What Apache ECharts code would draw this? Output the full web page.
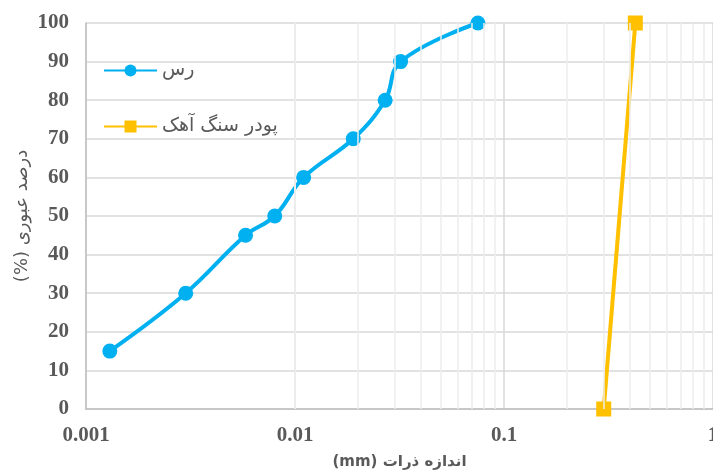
<!DOCTYPE html>
<html>
<head>
<meta charset="utf-8">
<script src="https://cdn.jsdelivr.net/npm/echarts@6/dist/echarts.min.js"></script>
<style>
html,body{margin:0;padding:0;background:#fff;overflow:hidden;width:100%;height:100%;}
#chart{width:100vw;height:100vh;}
</style>
</head>
<body>
<div id="chart"></div>
<script>
const clayName = 'رس';
const clayX = [0.0013, 0.003, 0.0058, 0.008, 0.011, 0.019, 0.027, 0.032, 0.075];
const clayY = [15, 30, 45, 50, 60, 70, 80, 90, 100];
const limeName = 'پودر سنگ آهک';
const limeX = [0.3, 0.425];
const limeY = [0, 100];
const xTickLabels = ['0.001', '0.01', '0.1', '1'];
const minorGrid = [];
[0.001, 0.01, 0.1].forEach(d => { for (let k = 2; k <= 9; k++) minorGrid.push(+(d * k).toPrecision(3)); });

const chart = echarts.init(document.getElementById('chart'));
const numFont = '"Liberation Serif", "Times New Roman", serif';
const faFont = '"DejaVu Sans", sans-serif';
chart.setOption({
  animation: false,
  grid: {left: 86, right: 0, top: 23, bottom: 65, containLabel: false, outerBoundsMode: 'none'},
  legend: {
    left: 98, top: 56, orient: 'vertical', itemGap: 37,
    itemWidth: 53, itemHeight: 15,
    textStyle: {fontFamily: faFont, fontSize: 19, color: '#595959'},
    data: [clayName, limeName]
  },
  xAxis: {
    type: 'log', logBase: 10, min: 0.001, max: 1,
    name: '(mm) اندازه ذرات', nameLocation: 'middle', nameGap: 46,
    nameTextStyle: {fontFamily: faFont, fontSize: 15, fontWeight: 'bold', color: '#595959'},
    axisLine: {show: true, lineStyle: {color: '#bfbfbf', width: 1.5}},
    axisTick: {show: false},
    axisLabel: {
      margin: 16, fontFamily: numFont, fontSize: 21, fontWeight: 'bold', color: '#595959',
      formatter: v => { const s = xTickLabels.find(t => Math.abs(parseFloat(t) - v) / v < 1e-6); return s || ''; }
    },
    splitLine: {show: true, lineStyle: {color: '#d9d9d9', width: 1.5}},
    minorTick: {show: false},
    minorSplitLine: {show: false}
  },
  yAxis: {
    type: 'value', min: 0, max: 100, interval: 10,
    name: '(%) درصد عبوری', nameLocation: 'middle', nameGap: 55, nameRotate: 90,
    nameMoveOverlap: false,
    nameTextStyle: {fontFamily: faFont, fontSize: 18, color: '#595959'},
    axisLine: {show: true, lineStyle: {color: '#bfbfbf', width: 1.5}},
    axisTick: {show: false},
    axisLabel: {margin: 17, fontFamily: numFont, fontSize: 21, fontWeight: 'bold', color: '#595959'},
    splitLine: {show: true, lineStyle: {color: '#d9d9d9', width: 1.5}}
  },
  series: [
    {
      name: '_grid', type: 'line', data: [], silent: true, z: 0,
      markLine: {
        silent: true, symbol: 'none', label: {show: false}, animation: false,
        lineStyle: {color: '#ececec', width: 1.5, type: 'solid'},
        data: minorGrid.map(v => ({xAxis: v}))
      }
    },
    {
      name: clayName, type: 'line', smooth: 0.4,
      data: clayX.map((x, i) => [x, clayY[i]]),
      symbol: 'circle', symbolSize: 15,
      lineStyle: {color: '#00B0F0', width: 4},
      itemStyle: {color: '#00B0F0'}, z: 3
    },
    {
      name: limeName, type: 'line',
      data: limeX.map((x, i) => [x, limeY[i]]),
      symbol: 'rect', symbolSize: 15,
      lineStyle: {color: '#FFC000', width: 4},
      itemStyle: {color: '#FFC000'}, z: 3
    }
  ]
});
</script>
</body>
</html>
